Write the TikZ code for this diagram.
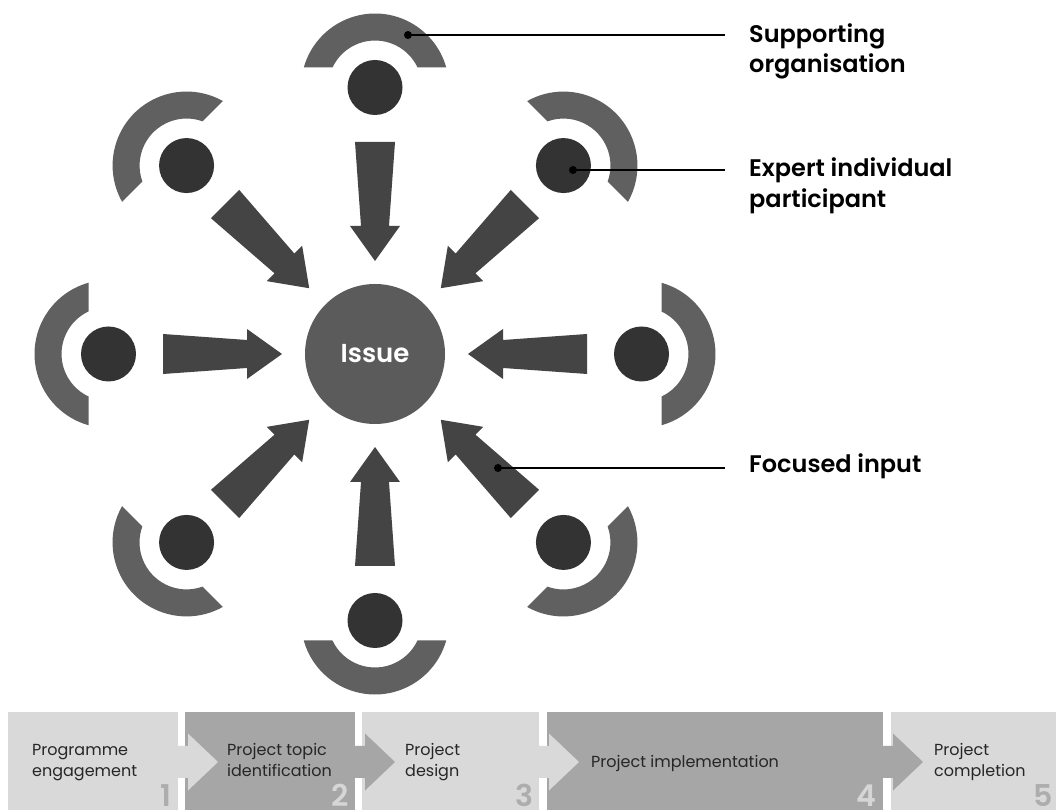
\documentclass[tikz,border=0pt]{standalone}
\usepackage{fontspec}
\setmainfont{Poppins}[BoldFont={Poppins SemiBold}]
\definecolor{arcgray}{HTML}{606060}
\definecolor{dotgray}{HTML}{333333}
\definecolor{arrgray}{HTML}{444444}
\definecolor{issuegray}{HTML}{5B5B5B}
\definecolor{barlight}{HTML}{D9D9D9}
\definecolor{bardark}{HTML}{A6A6A6}
\definecolor{numonlight}{HTML}{ADADAD}
\definecolor{numondark}{HTML}{D6D6D6}
\begin{document}
\begin{tikzpicture}[x=1pt,y=1pt,
  satdot/.style={circle,fill=dotgray,inner sep=0pt,minimum size=55pt},
  pin/.style={circle,fill=black,inner sep=0pt,minimum size=8pt},
  leader/.style={line width=1.6pt,black},
  lab/.style={font=\fontsize{24}{28}\selectfont\bfseries,inner sep=0pt,anchor=base west,text=black},
  bartext/.style={font=\fontsize{16}{20}\selectfont,inner sep=0pt,anchor=base west,text=black!85},
  barnum/.style={font=\fontsize{30}{32}\selectfont\bfseries,inner sep=0pt,anchor=base east}]
\useasboundingbox (0,0) rectangle (1056,810);
\fill[white] (0,0) rectangle (1056,810);

% central issue
\node[circle,fill=issuegray,minimum size=140pt,inner sep=0pt,text=white,
      font=\fontsize{26}{30}\selectfont\bfseries] (issue) at (375,456) {Issue};

% satellites, arcs and arrows
\foreach \a [count=\i] in {0,45,...,315} {
  \begin{scope}[shift={(375,456)},rotate=\a]
    \node[satdot] (s\i) at (266.5,0) {};
    \fill[arcgray] (286.5,-71.25) arc[start angle=-74.3,end angle=74.3,radius=74]
       -- (286.5,42.5) arc[start angle=64.8,end angle=-64.8,radius=47] -- cycle;
    \fill[arrgray] (212,20) -- (128,14) -- (128,25) -- (93,0) -- (128,-25)
       -- (128,-14) -- (212,-20) -- cycle;
  \end{scope}
}

% leaders and labels
\node[pin] (p1) at (408,775) {};
\coordinate (q1) at (725,775);
\draw[leader] (p1.center) -- (q1);
\node[pin] (p2) at (573,640) {};
\coordinate (q2) at (725,640);
\draw[leader] (p2.center) -- (q2);
\node[pin] (p3) at (498,342) {};
\coordinate (q3) at (725,342);
\draw[leader] (p3.center) -- (q3);

\node[lab] (l1a) at (749,767) {Supporting};
\node[lab] (l1b) at (749,737) {organisation};
\node[lab] (l2a) at (749,633) {Expert individual};
\node[lab] (l2b) at (749,602) {participant};
\node[lab] (l3) at (749,337) {Focused input};

% bottom process bar
\fill[barlight] (8,0) rectangle (178,98);
\fill[bardark] (185,0) rectangle (355,98);
\fill[barlight] (362,0) rectangle (539,98);
\fill[bardark] (547,0) rectangle (883,98);
\fill[barlight] (891,0) rectangle (1060,98);

\foreach \e/\c in {178/barlight,355/bardark,539/barlight,883/bardark} {
  \fill[\c] (\e-1,64) -- (\e+10,64) -- (\e+10,76.5) -- (\e+40,48) -- (\e+10,19.5)
     -- (\e+10,32) -- (\e-1,32) -- cycle;
}

\node[barnum,text=numonlight] (n1) at (172,3) {1};
\node[barnum,text=numondark] (n2) at (349,3) {2};
\node[barnum,text=numonlight] (n3) at (534,3) {3};
\node[barnum,text=numondark] (n4) at (877,3) {4};
\node[barnum,text=numonlight] (n5) at (1053,3) {5};

\node[bartext] (t1a) at (32,54) {Programme};
\node[bartext] (t1b) at (32,33) {engagement};
\node[bartext] (t2a) at (227,54) {Project topic};
\node[bartext] (t2b) at (227,33) {identification};
\node[bartext] (t3a) at (405,54) {Project};
\node[bartext] (t3b) at (405,33) {design};
\node[bartext] (t4) at (591,42) {Project implementation};
\node[bartext] (t5a) at (934,54) {Project};
\node[bartext] (t5b) at (934,33) {completion};
\end{tikzpicture}
\end{document}
